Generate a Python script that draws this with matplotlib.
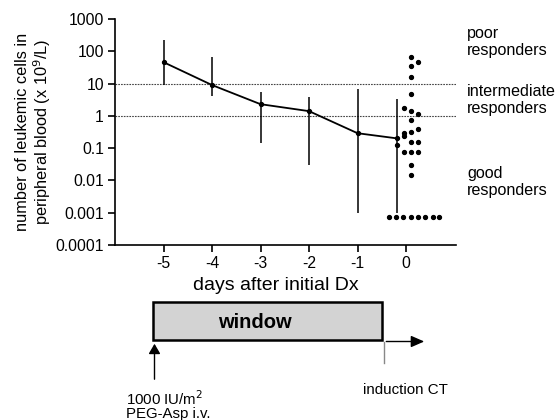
import matplotlib
matplotlib.use("Agg")
import matplotlib.pyplot as plt
from matplotlib.patches import Rectangle, FancyArrowPatch

plt.rcParams['font.family'] = ['Liberation Sans', 'DejaVu Sans']

# ---- data ----
days = [-5, -4, -3, -2, -1, -0.18]
means = [46, 9, 2.3, 1.4, 0.29, 0.2]
upper = [220, 65, 5.6, 3.9, 6.6, 3.3]
lower = [9, 4, 0.14, 0.029, 0.00096, 0.00096]

day0_x = [0.11, 0.25, 0.11, 0.11, 0.11, -0.04, 0.11, 0.25, 0.11, 0.25, 0.11,
          -0.04, -0.04, -0.18, 0.11, 0.25, -0.04, 0.11, 0.25, 0.11, 0.11,
          -0.36, -0.21, -0.055, 0.10, 0.25, 0.40, 0.55, 0.68]
day0_y = [68, 48, 35, 15.7, 4.9, 1.7, 1.4, 1.17, 0.77, 0.39, 0.32,
          0.29, 0.23, 0.125, 0.16, 0.16, 0.078, 0.078, 0.078, 0.030, 0.015,
          0.00075, 0.00075, 0.00075, 0.00075, 0.00075, 0.00075, 0.00075, 0.00075]

thresholds = [10, 1]
xticks = [-5, -4, -3, -2, -1, 0]
yticks = [1e-4, 1e-3, 1e-2, 1e-1, 1, 10, 100, 1000]
ytick_labels = ['0.0001', '0.001', '0.01', '0.1', '1', '10', '100', '1000']
group_labels = ['poor\nresponders', 'intermediate\nresponders', 'good\nresponders']
group_label_y = [42, 100, 182]  # pixel rows

W, H = 559, 420
fig = plt.figure(figsize=(W / 100, H / 100), dpi=100)

# main axes
ax = fig.add_axes([115 / W, 1 - 245 / H, (456 - 115) / W, (245 - 19) / H])
ax.set_yscale('log')
ax.set_ylim(1e-4, 1e3)
ax.set_xlim(-6, 1.03)
for s in ['top', 'right']:
    ax.spines[s].set_visible(False)
for s in ['left', 'bottom']:
    ax.spines[s].set_linewidth(1.2)
ax.set_xticks(xticks)
ax.set_xticklabels([str(t) for t in xticks])
ax.set_yticks(yticks)
ax.set_yticklabels(ytick_labels)
ax.minorticks_off()
ax.tick_params(axis='both', labelsize=11.3, width=1.2, length=5, direction='out', pad=3)

for t in thresholds:
    ax.axhline(t, color='#444444', lw=0.8, ls=(0, (1.5, 1)), zorder=1)

ax.vlines(days, lower, upper, color='black', lw=1.1, zorder=2)
ax.plot(days, means, color='black', lw=1.3, marker='o', ms=2.8, zorder=3)
ax.plot(day0_x, day0_y, ls='none', marker='o', color='black', ms=2.8, zorder=3)

ax.set_xlabel('days after initial Dx', fontsize=14)
ax.xaxis.set_label_coords((276 - 115) / 341, -(277 - 245) / 226)
ax.set_ylabel('number of leukemic cells in\nperipheral blood (x 10$^9$/L)', fontsize=11.8,
              linespacing=1.05)
ax.yaxis.set_label_coords(-(115 - 53) / 341, 0.5)

# overlay for annotations and diagram
ov = fig.add_axes([0, 0, 1, 1])
ov.set_xlim(0, W)
ov.set_ylim(H, 0)
ov.axis('off')
ov.patch.set_alpha(0)

for lab, yy in zip(group_labels, group_label_y):
    ov.text(467, yy, lab, fontsize=11.6, ha='left', va='center', linespacing=1.15)

ov.add_patch(Rectangle((153, 302), 229, 38, facecolor='#d3d3d3', edgecolor='black', lw=1.8))
ov.text(255, 322, 'window', fontsize=14.5, fontweight='bold', ha='center', va='center')

ov.add_patch(FancyArrowPatch((154.5, 382), (154.5, 341), arrowstyle='-|>,head_length=6,head_width=3.5',
                             color='black', lw=1.0, mutation_scale=1))
ov.text(126, 405, '1000 IU/m$^2$\nPEG-Asp i.v.', fontsize=10.8, ha='left', va='center', linespacing=0.95)

ov.plot([383.5, 383.5], [363, 341.5], color='#888888', lw=1.0)
ov.add_patch(FancyArrowPatch((383.5, 341.5), (427, 341.5), arrowstyle='-|>,head_length=8,head_width=3.5',
                             color='black', lw=1.0, mutation_scale=1))
ov.text(363, 390, 'induction CT', fontsize=10.9, ha='left', va='center')

fig.savefig('out.png', dpi=100)
